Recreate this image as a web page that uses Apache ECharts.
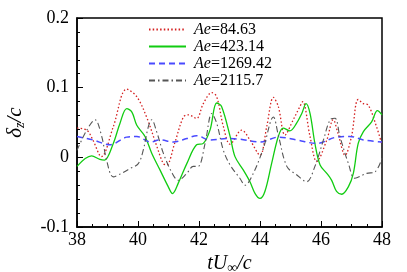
<!DOCTYPE html>
<html><head><meta charset="utf-8">
<script src="https://cdn.jsdelivr.net/npm/echarts@6/dist/echarts.min.js"></script>
<style>html,body{margin:0;padding:0;background:#fff}#c{width:407px;height:272px}</style>
</head><body><div id="c"></div>
<script>
const seriesNames = ['Ae=84.63','Ae=423.14','Ae=1269.42','Ae=2115.7'];
const xTicks = [38,40,42,44,46,48];
const yTicks = [-0.1,0,0.1,0.2];
const red = [[38,0.042],[38.32,0.039],[38.52,0.025],[38.8,0.001],[39.19,0.044],[39.63,0.098],[39.96,0.087],[40.28,0.058],[40.6,0.018],[40.83,-0.009],[40.94,-0.011],[41.2,0.020],[41.49,0.058],[41.65,0.061],[41.92,0.056],[42.14,0.077],[42.42,0.093],[42.58,0.087],[42.8,0.044],[43.02,0.019],[43.4,0.039],[43.67,0.025],[44.0,0.003],[44.22,0.044],[44.44,0.086],[44.6,0.073],[44.82,0.032],[45.09,0.054],[45.31,0.073],[45.4,0.080],[45.64,0.030],[45.86,-0.006],[46.19,0.025],[46.4,0.054],[46.56,0.034],[46.79,0.003],[47.0,0.030],[47.22,0.083],[47.39,0.077],[47.55,0.075],[47.82,0.044],[48,0.018]];
const green = [[38,-0.013],[38.48,0.002],[38.75,-0.003],[38.9,-0.004],[39.19,0.020],[39.41,0.049],[39.63,0.070],[39.8,0.065],[39.96,0.046],[40.23,0.030],[40.45,0.006],[40.72,-0.018],[40.99,-0.042],[41.13,-0.052],[41.32,-0.037],[41.6,-0.009],[41.92,0.018],[42.14,0.020],[42.36,0.039],[42.58,0.078],[42.74,0.073],[43.02,0.030],[43.18,0.001],[43.45,-0.018],[43.67,-0.035],[43.84,-0.052],[44.0,-0.059],[44.16,-0.049],[44.38,-0.009],[44.6,0.030],[44.76,0.042],[44.98,0.038],[45.2,0.049],[45.37,0.063],[45.51,0.077],[45.64,0.063],[45.8,0.020],[45.97,-0.011],[46.19,-0.023],[46.35,-0.033],[46.51,-0.049],[46.68,-0.053],[46.9,-0.042],[47.06,-0.023],[47.22,0.020],[47.39,0.037],[47.66,0.051],[47.85,0.067],[48,0.061]];
const blue = [[38,0.030],[38.52,0.025],[39.08,0.018],[39.63,0.029],[39.96,0.030],[40.4,0.022],[40.72,0.025],[41.16,0.022],[41.6,0.027],[41.92,0.031],[42.36,0.025],[42.9,0.027],[43.34,0.026],[44.0,0.022],[44.6,0.029],[45.2,0.025],[45.86,0.020],[46.51,0.029],[46.95,0.030],[47.39,0.025],[48,0.022]];
const gray = [[38,0.010],[38.32,0.039],[38.59,0.054],[38.81,0.030],[38.97,-0.004],[39.19,-0.028],[39.46,-0.023],[39.74,-0.016],[40.01,-0.009],[40.17,0.010],[40.34,0.044],[40.45,0.054],[40.61,0.037],[40.83,0.006],[41.1,-0.021],[41.32,-0.033],[41.6,-0.023],[41.81,-0.013],[41.97,-0.013],[42.2,0.020],[42.42,0.063],[42.58,0.049],[42.8,0.010],[43.02,-0.011],[43.34,-0.030],[43.51,-0.040],[43.78,-0.023],[44.11,0.013],[44.44,0.058],[44.6,0.032],[44.88,-0.013],[45.2,-0.025],[45.53,-0.035],[45.8,-0.013],[46.08,0.025],[46.3,0.054],[46.46,0.056],[46.62,0.030],[46.9,-0.009],[47.11,-0.030],[47.5,-0.023],[47.77,-0.021],[48,-0.001]];

const F = 'Liberation Serif';
const chart = echarts.init(document.getElementById('c'), null, {renderer:'canvas'});
function mk(name, data, color, type, width){
  return {name, type:'line', data, showSymbol:false, symbol:'none', smooth:0.35,
    lineStyle:{color, type, width}, itemStyle:{color}, animation:false};
}
chart.setOption({
  animation:false,
  grid:{left:77, right:25, top:18, bottom:45, outerBoundsMode:'none', containLabel:false, show:true, borderColor:'#000', borderWidth:1.5},
  legend:{orient:'vertical', left:148, top:21, itemWidth:37, itemHeight:16, itemGap:0, padding:0,
    data:seriesNames,
    itemStyle:{color:'rgba(0,0,0,0)', borderWidth:0, opacity:0},
    formatter: n => '{i|Ae}{n|' + n.slice(2) + '}',
    textStyle:{padding:[0,0,0,3], lineHeight:17, rich:{i:{fontFamily:F, fontStyle:'italic', fontSize:16, lineHeight:17, color:'#000'}, n:{fontFamily:F, fontSize:16, lineHeight:17, color:'#000'}}}},
  xAxis:{type:'value', min:xTicks[0], max:xTicks[xTicks.length-1], interval:2,
    axisLine:{onZero:false, lineStyle:{color:'#000', width:1.5}},
    axisTick:{inside:true, length:6, lineStyle:{color:'#000'}},
    minorTick:{show:true, splitNumber:4, length:3, lineStyle:{color:'#000'}},
    splitLine:{show:false},
    axisLabel:{fontFamily:F, fontSize:18, color:'#000', margin:4},
    name:'{i|tU}{s|∞}{i|/c}', nameLocation:'middle', nameGap:21,
    nameTextStyle:{rich:{i:{fontFamily:F, fontStyle:'italic', fontSize:20, color:'#000'}, s:{fontFamily:F, fontSize:14, color:'#000', padding:[9,0,0,0]}}}},
  yAxis:{type:'value', min:yTicks[0], max:yTicks[yTicks.length-1], interval:0.1,
    axisLine:{onZero:false, lineStyle:{color:'#000', width:1.5}},
    axisTick:{inside:true, length:6, lineStyle:{color:'#000'}},
    minorTick:{show:true, splitNumber:5, length:3, lineStyle:{color:'#000'}},
    splitLine:{show:false},
    axisLabel:{fontFamily:F, fontSize:18, color:'#000', margin:8},
    name:'{i|δ}{s|z}{i|/c}', nameLocation:'middle', nameGap:50, nameRotate:90,
    nameTextStyle:{rich:{i:{fontFamily:F, fontStyle:'italic', fontSize:21, color:'#000'}, s:{fontFamily:F, fontStyle:'italic', fontSize:14, color:'#000', padding:[9,0,0,0]}}}},
  series:[
    mk(seriesNames[0], red, '#d42020', [1.5,2.2], 1.3),
    mk(seriesNames[1], green, '#11cc11', 'solid', 1.3),
    mk(seriesNames[2], blue, '#4a4aff', [6,4], 1.5),
    mk(seriesNames[3], gray, '#555555', [6,3,1.5,3], 1.1)
  ]
});
</script></body></html>
